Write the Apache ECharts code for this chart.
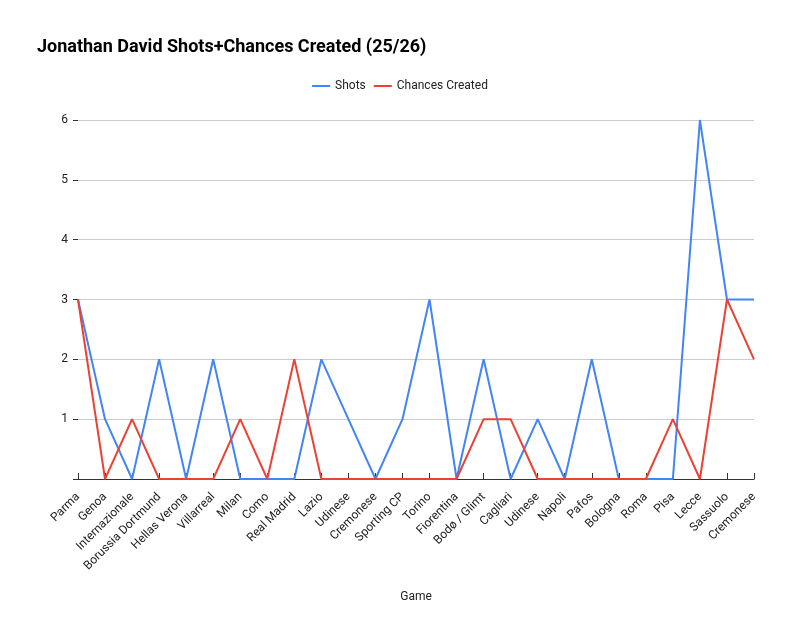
<!DOCTYPE html>
<html><head><meta charset="utf-8">
<script src="https://cdn.jsdelivr.net/npm/echarts@6/dist/echarts.min.js"></script>
<style>html,body{margin:0;padding:0;background:#fff}#c{width:800px;height:636px}</style>
</head><body><div id="c"></div>
<script>
const categories = ["Parma","Genoa","Internazionale","Borussia Dortmund","Hellas Verona","Villarreal","Milan","Como","Real Madrid","Lazio","Udinese","Cremonese","Sporting CP","Torino","Fiorentina","Bodø / Glimt","Cagliari","Udinese","Napoli","Pafos","Bologna","Roma","Pisa","Lecce","Sassuolo","Cremonese"];
const shots = [3,1,0,2,0,2,0,0,0,2,1,0,1,3,0,2,0,1,0,2,0,0,0,6,3,3];
const chances = [3,0,1,0,0,0,1,0,2,0,0,0,0,0,0,1,1,0,0,0,0,0,1,0,3,2];
const chart = echarts.init(document.getElementById('c'));
chart.setOption({
  animation:false,
  title:{text:'Jonathan David Shots+Chances Created (25/26)',left:32,top:33,textStyle:{fontFamily:'Roboto',fontSize:18,fontWeight:'bold',color:'#000'}},
  legend:{top:75,left:'center',itemWidth:18,itemHeight:2,icon:'rect',textStyle:{fontFamily:'Roboto',fontSize:12,color:'#222'},data:['Shots','Chances Created']},
  grid:{left:78,right:46,top:120,bottom:157},
  xAxis:{type:'category',data:categories,boundaryGap:false,name:'Game',nameLocation:'middle',nameGap:112,
    nameTextStyle:{fontFamily:'Roboto',fontSize:12,color:'#222'},
    axisLine:{lineStyle:{color:'#333'}},axisTick:{show:true,alignWithLabel:true,inside:true,length:6,lineStyle:{color:'#333'}},
    axisLabel:{rotate:45,interval:0,margin:16,fontFamily:'Roboto',fontSize:12,color:'#222'}},
  yAxis:{type:'value',min:0,max:6,interval:1,axisLine:{show:false},axisTick:{show:true,length:5,lineStyle:{color:'#333'}},
    splitLine:{lineStyle:{color:'#ccc'}},
    axisLabel:{fontFamily:'Roboto',fontSize:12,color:'#222',margin:10,formatter:v=>v===0?'':String(v)}},
  series:[
    {name:'Shots',type:'line',data:shots,showSymbol:false,symbol:'none',lineStyle:{color:'#4285f4',width:2},itemStyle:{color:'#4285f4'}},
    {name:'Chances Created',type:'line',data:chances,showSymbol:false,symbol:'none',lineStyle:{color:'#ea4335',width:2},itemStyle:{color:'#ea4335'}}
  ]
});
</script></body></html>
